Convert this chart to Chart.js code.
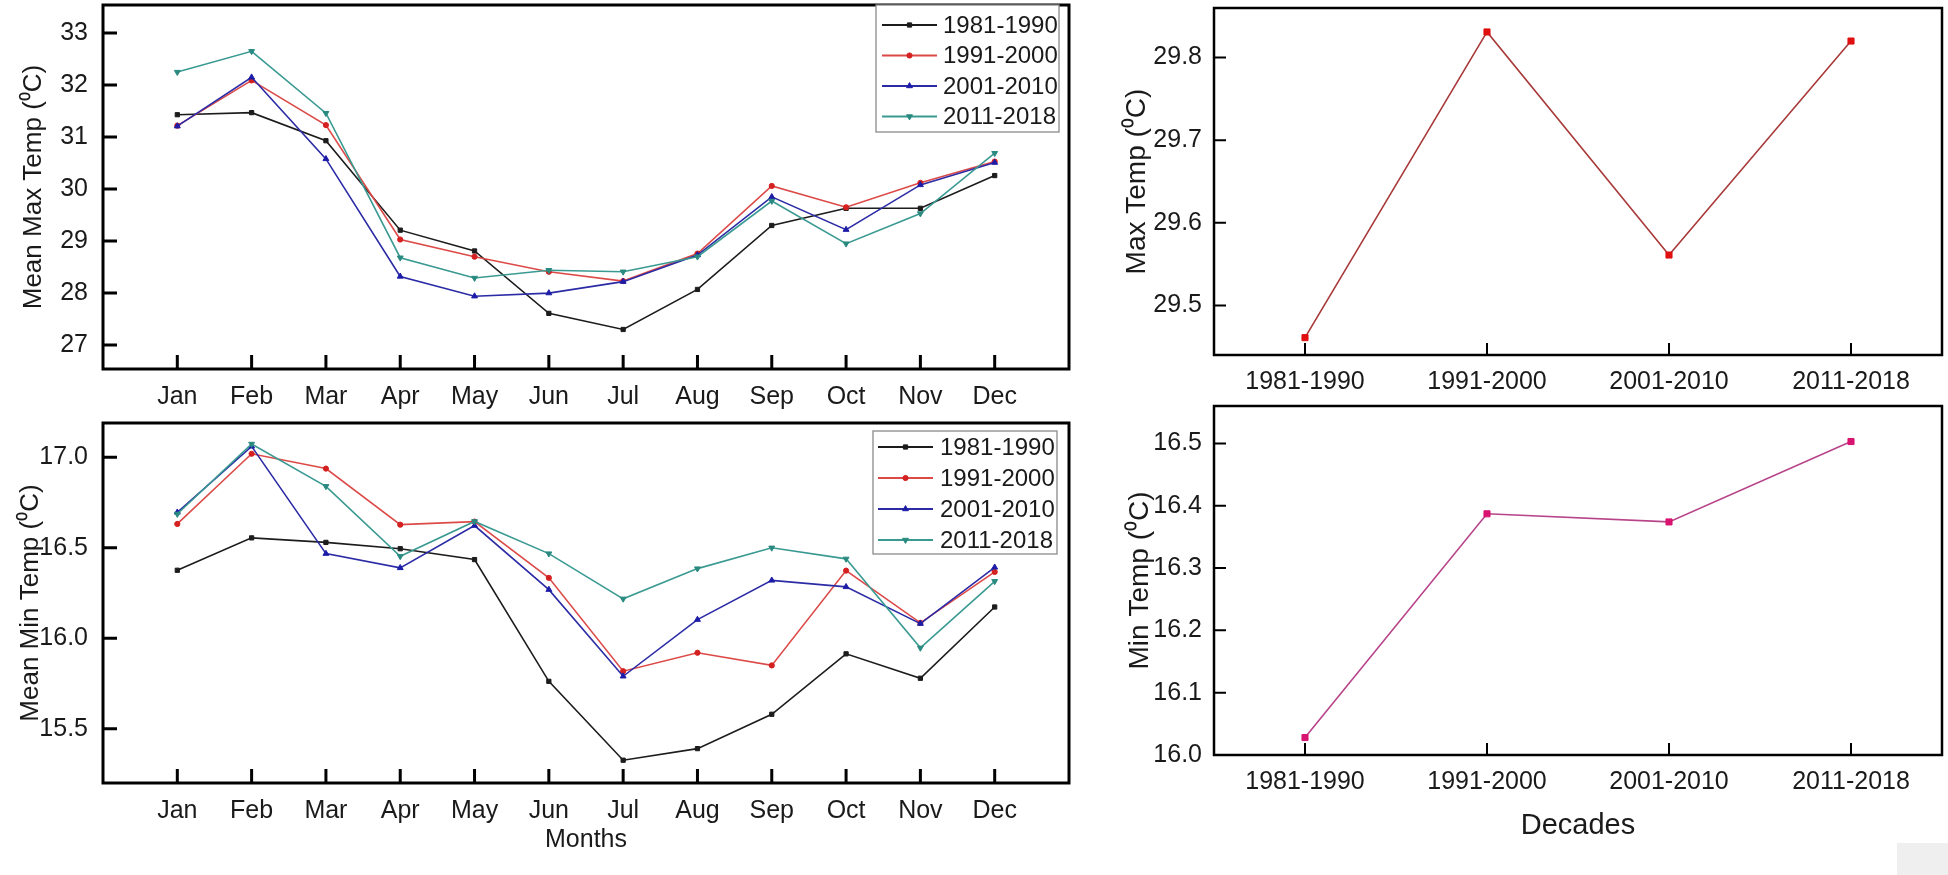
<!DOCTYPE html>
<html><head><meta charset="utf-8">
<script src="https://cdn.jsdelivr.net/npm/chart.js@4.4.1/dist/chart.umd.min.js"></script>
<style>
html,body{margin:0;padding:0;background:#fff;width:1948px;height:875px;overflow:hidden;position:relative}
.pane{position:absolute}
.pane canvas{display:block}
#corner{position:absolute;left:1897px;top:843px;width:51px;height:32px;background:#efefef}
</style></head><body>
<div class="pane" style="left:0;top:0"><canvas id="cTL" width="1075" height="420"></canvas></div>
<div class="pane" style="left:0;top:418px"><canvas id="cBL" width="1075" height="457"></canvas></div>
<div class="pane" style="left:1080px;top:0"><canvas id="cTR" width="868" height="400"></canvas></div>
<div class="pane" style="left:1080px;top:400px"><canvas id="cBR" width="868" height="475"></canvas></div>
<div id="corner"></div>
<script>
// ---------- data ----------
const months = ['Jan','Feb','Mar','Apr','May','Jun','Jul','Aug','Sep','Oct','Nov','Dec'];
const decades = ['1981-1990','1991-2000','2001-2010','2011-2018'];
const seriesLabels = ['1981-1990','1991-2000','2001-2010','2011-2018'];

const maxT_1981_1990 = [31.43,31.47,30.93,29.21,28.81,27.61,27.30,28.07,29.30,29.63,29.63,30.26];
const maxT_1991_2000 = [31.22,32.09,31.23,29.03,28.70,28.41,28.23,28.76,30.06,29.65,30.12,30.53];
const maxT_2001_2010 = [31.21,32.15,30.58,28.32,27.94,28.00,28.22,28.73,29.85,29.22,30.08,30.51];
const maxT_2011_2018 = [32.25,32.65,31.46,28.68,28.29,28.44,28.41,28.70,29.77,28.95,29.53,30.69];

const minT_1981_1990 = [16.376,16.555,16.530,16.495,16.435,15.762,15.326,15.390,15.580,15.914,15.779,16.173];
const minT_1991_2000 = [16.632,17.020,16.938,16.628,16.645,16.334,15.818,15.920,15.850,16.374,16.085,16.367];
const minT_2001_2010 = [16.696,17.061,16.468,16.389,16.623,16.269,15.790,16.103,16.320,16.284,16.081,16.392];
const minT_2011_2018 = [16.687,17.074,16.840,16.453,16.646,16.468,16.218,16.385,16.500,16.439,15.947,16.315];

const decadeMaxT = [29.461,29.831,29.561,29.820];
const decadeMinT = [16.028,16.387,16.374,16.503];

const maxTicks = [27,28,29,30,31,32,33];
const minTicks = [15.5,16.0,16.5,17.0];
const decMaxTicks = [29.5,29.6,29.7,29.8];
const decMinTicks = [16.0,16.1,16.2,16.3,16.4,16.5];

// ---------- styling ----------
const TXT = '#1a1a1a';
const REG = "'Liberation Sans', Arial, sans-serif";
const NAR = "'Liberation Sans Narrow', 'Arial Narrow', 'Liberation Sans', sans-serif";
Chart.defaults.font.family = REG;
Chart.defaults.color = TXT;

const seriesStyle = [
  {color:'#1c1c1c', point:'rect', r:3, rot:0},
  {color:'#dc4a48', point:'circle', r:2.6, rot:0, pcolor:'#d42020'},
  {color:'#2b2ba6', point:'triangle', r:3.4, rot:0, pcolor:'#1c1ca8'},
  {color:'#3a9a92', point:'triangle', r:3.4, rot:180, pcolor:'#2a8a80'}
];

function monthSets(arrs){
  return arrs.map((vals,i)=>{
    const s = seriesStyle[i];
    return {
      label: seriesLabels[i],
      data: vals.map((v,k)=>({x:k,y:v})),
      borderColor: s.color, backgroundColor: s.pcolor||s.color,
      borderWidth: 1.6,
      pointStyle: s.point, pointRadius: s.r, pointRotation: s.rot,
      pointBackgroundColor: s.pcolor||s.color, pointBorderColor: s.pcolor||s.color,
      pointBorderWidth: 1, order: 3 - i, tension: 0
    };
  });
}

function zeroPad(s){ s.paddingTop = 0; s.paddingBottom = 0; s.paddingLeft = 0; s.paddingRight = 0; }

const framePlugin = {
  id: 'frame',
  afterDraw(chart, args, opts){
    const {ctx, chartArea:a, scales} = chart;
    const xs = scales.x, ys = scales.y;
    ctx.save();
    ctx.strokeStyle = '#000';
    ctx.lineWidth = opts.tickWidth;
    ctx.beginPath();
    xs.ticks.forEach((t,i)=>{ const px = xs.getPixelForTick(i); ctx.moveTo(px, a.bottom); ctx.lineTo(px, a.bottom - opts.tickLen); });
    ys.ticks.forEach((t,i)=>{ const py = ys.getPixelForTick(i); ctx.moveTo(a.left, py); ctx.lineTo(a.left + opts.tickLen, py); });
    ctx.stroke();
    ctx.lineWidth = opts.lineWidth;
    ctx.strokeRect(a.left, a.top, a.right - a.left, a.bottom - a.top);
    const L = opts.legend;
    if (L){
      const bx = a.right - L.right - L.w, by = a.top + L.top;
      ctx.fillStyle = '#fff';
      ctx.fillRect(bx, by, L.w, L.h);
      ctx.lineWidth = 1.3; ctx.strokeStyle = '#8a8a8a';
      ctx.strokeRect(bx, by, L.w, L.h);
      ctx.font = L.font; ctx.textBaseline = 'middle'; ctx.textAlign = 'left';
      chart.data.datasets.forEach((ds,i)=>{
        const y = by + L.first + i*L.step;
        ctx.strokeStyle = ds.borderColor; ctx.lineWidth = 1.8;
        ctx.beginPath(); ctx.moveTo(bx + L.x0, y); ctx.lineTo(bx + L.x1, y); ctx.stroke();
        ctx.fillStyle = ds.pointBackgroundColor; ctx.strokeStyle = ds.pointBorderColor; ctx.lineWidth = 1;
        Chart.helpers.drawPoint(ctx, {pointStyle: ds.pointStyle, radius: ds.pointRadius, rotation: ds.pointRotation||0, borderWidth: 1}, bx + (L.x0 + L.x1)/2, y);
        ctx.fillStyle = TXT;
        ctx.fillText(ds.label, bx + L.tx, y + 1);
      });
    }
    ctx.restore();
  }
};

function monthChart(id, arrs, cfg){
  return new Chart(document.getElementById(id), {
    type: 'line',
    data: { datasets: monthSets(arrs) },
    plugins: [framePlugin],
    options: {
      responsive: false, animation: false, devicePixelRatio: 1,
      layout: { padding: { top: cfg.padTop, right: 6, left: 0, bottom: 0 } },
      plugins: { legend: {display:false}, tooltip: {enabled:false},
        frame: { lineWidth: 3, tickWidth: 3, tickLen: 14, legend: cfg.legend } },
      scales: {
        x: {
          type: 'linear', min: -1, max: 12,
          afterBuildTicks: s => { s.ticks = months.map((m,i)=>({value:i})); },
          afterFit: s => { s.height = cfg.xH; zeroPad(s); },
          ticks: { callback: v => months[v] || '', padding: 13, font: {size: 25, family: REG}, color: TXT, maxRotation: 0, autoSkip: false },
          grid: { display: false, drawTicks: false }, border: { display: false },
          title: cfg.xTitle ? { display: true, text: cfg.xTitle, font: {size: 25, family: REG}, color: TXT, padding: {top: 0, bottom: 20} } : {display:false}
        },
        y: {
          type: 'linear', min: cfg.min, max: cfg.max,
          afterBuildTicks: s => { s.ticks = cfg.ticks.map(v=>({value:v})); },
          afterFit: s => { s.width = 103; zeroPad(s); },
          ticks: { callback: v => cfg.fmt(v), padding: 15, font: {size: 25, family: REG}, color: TXT, autoSkip: false },
          grid: { display: false, drawTicks: false }, border: { display: false },
          title: { display: true, text: cfg.yTitle, font: {size: 26, family: REG}, color: TXT, padding: {top: cfg.yTitlePad, bottom: 0} }
        }
      }
    }
  });
}

function decadeChart(id, vals, cfg){
  return new Chart(document.getElementById(id), {
    type: 'line',
    data: { labels: decades, datasets: [{
      label: cfg.yTitle, data: vals,
      borderColor: cfg.line, borderWidth: 1.6,
      pointStyle: 'rect', pointRadius: 4.3,
      pointBackgroundColor: cfg.point, pointBorderColor: cfg.point, pointBorderWidth: 1, tension: 0
    }]},
    plugins: [framePlugin],
    options: {
      responsive: false, animation: false, devicePixelRatio: 1,
      layout: { padding: { top: cfg.padTop, right: 6, left: 0, bottom: 0 } },
      plugins: { legend: {display:false}, tooltip: {enabled:false},
        frame: { lineWidth: 2.5, tickWidth: 2, tickLen: 12 } },
      scales: {
        x: {
          type: 'category', offset: true,
          afterFit: s => { s.height = cfg.xH; zeroPad(s); },
          ticks: { padding: 12, font: {size: 25, family: NAR}, color: TXT, maxRotation: 0, autoSkip: false },
          grid: { display: false, drawTicks: false, offset: true }, border: { display: false },
          title: cfg.xTitle ? { display: true, text: cfg.xTitle, font: {size: 29, family: REG}, color: TXT, padding: {top: 0, bottom: 32} } : {display:false}
        },
        y: {
          type: 'linear', min: cfg.min, max: cfg.max,
          afterBuildTicks: s => { s.ticks = cfg.ticks.map(v=>({value:v})); },
          afterFit: s => { s.width = 134; zeroPad(s); },
          ticks: { callback: v => v.toFixed(1), padding: 12, font: {size: 25, family: NAR}, color: TXT, autoSkip: false },
          grid: { display: false, drawTicks: false }, border: { display: false },
          title: { display: true, text: cfg.yTitle, font: {size: 28, family: REG}, color: TXT, padding: {top: cfg.yTitlePad, bottom: 0} }
        }
      }
    }
  });
}

monthChart('cTL', [maxT_1981_1990, maxT_1991_2000, maxT_2001_2010, maxT_2011_2018], {
  padTop: 5, xH: 51, min: 26.54, max: 33.54, ticks: maxTicks, fmt: v => String(v),
  yTitle: 'Mean Max Temp (\u2070C)', yTitlePad: 18,
  legend: { right: 10, w: 183, top: 0, h: 127, first: 20, step: 30.5, x0: 6, x1: 61, tx: 67, font: "24px " + REG }
});
monthChart('cBL', [minT_1981_1990, minT_1991_2000, minT_2001_2010, minT_2011_2018], {
  padTop: 5, xH: 92, min: 15.2, max: 17.19, ticks: minTicks, fmt: v => v.toFixed(1),
  yTitle: 'Mean Min Temp (\u2070C)', yTitlePad: 15, xTitle: 'Months',
  legend: { right: 12, w: 184, top: 8, h: 123, first: 16, step: 31, x0: 5, x1: 60, tx: 67, font: "24px " + REG }
});
decadeChart('cTR', decadeMaxT, {
  padTop: 8, xH: 45, min: 29.44, max: 29.86, ticks: decMaxTicks,
  yTitle: 'Max Temp (\u2070C)', yTitlePad: 40, line: '#a83a3a', point: '#e01010'
});
decadeChart('cBR', decadeMinT, {
  padTop: 6, xH: 120, min: 16.0, max: 16.56, ticks: decMinTicks,
  yTitle: 'Min Temp (\u2070C)', yTitlePad: 43, xTitle: 'Decades', line: '#b8448a', point: '#d81470'
});
</script>
</body></html>
